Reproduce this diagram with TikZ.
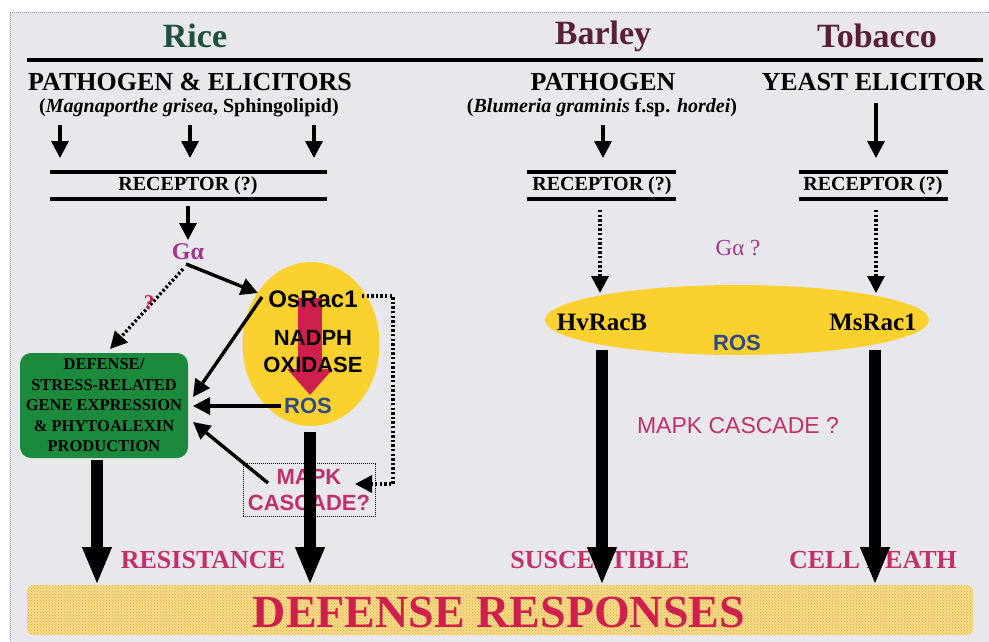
\documentclass[tikz,border=0pt]{standalone}
\usepackage{fontspec}
\setmainfont{Liberation Serif}
\setsansfont{Liberation Sans}
\usetikzlibrary{arrows.meta,shapes.geometric,patterns}
\definecolor{bg}{HTML}{E8E8EC}
\definecolor{ricegreen}{HTML}{1F4F3E}
\definecolor{plum}{HTML}{5A1E38}
\definecolor{pinklab}{HTML}{C2306C}
\definecolor{crimson}{HTML}{CF1F4C}
\definecolor{rosblue}{HTML}{2B4A86}
\definecolor{gapurple}{HTML}{A0388A}
\definecolor{yel}{HTML}{FAD12E}
\definecolor{boxgreen}{HTML}{1C8A3C}
\definecolor{bandbase}{HTML}{F4DB8C}
\definecolor{banddot}{HTML}{E9A92E}
\tikzset{
  title/.style={font=\fontsize{34}{38}\selectfont\bfseries, inner sep=0pt},
  head/.style={font=\fontsize{26}{30}\selectfont\bfseries, inner sep=0pt},
  sub/.style={font=\fontsize{20}{23}\selectfont\bfseries, inner sep=0pt},
  rec/.style={font=\fontsize{20}{24}\selectfont\bfseries, inner sep=0pt},
  sansb/.style={font=\fontsize{22}{26}\selectfont\sffamily\bfseries, inner sep=0pt},
  outcome/.style={font=\fontsize{26}{30}\selectfont\bfseries, text=pinklab, inner sep=0pt},
  thinarr/.style={line width=3.4pt, -{Triangle[width=17pt,length=17pt]}},
  dotarr/.style={line width=3.4pt, dash pattern=on 2.4pt off 2.2pt, -{Triangle[width=17pt,length=17pt]}},
  fatarr/.style={line width=12pt, -{Triangle[width=27pt,length=38pt]}},
  recline/.style={line width=3.4pt},
}
\begin{document}
\begin{tikzpicture}[x=1pt,y=-1pt]
\useasboundingbox (0,0) rectangle (989,641);
% background
\fill[bg] (10,12) rectangle (1000,660);
\draw[gray!80, line width=0.9pt, dash pattern=on 1pt off 1pt] (10,660) -- (10,12) -- (1000,12);

% titles
\node[title, text=ricegreen] (rice) at (195,36) {Rice};
\node[title, text=plum] (barley) at (603,36) {Barley};
\node[title, text=plum] (tobacco) at (877,36) {Tobacco};
\draw[line width=4.8pt] (27,60) -- (983,60);

% ===== Rice =====
\node[head] (pe) at (190,82) {PATHOGEN \& ELICITORS};
\node[sub] (pesub) at (189,108) {(\textit{Magnaporthe grisea}, Sphingolipid)};
\coordinate (r1s) at (60,125);  \coordinate (r1e) at (60,158);
\coordinate (r2s) at (190,125); \coordinate (r2e) at (190,158);
\coordinate (r3s) at (314,125); \coordinate (r3e) at (314,158);
\draw[thinarr] (r1s) -- (r1e);
\draw[thinarr] (r2s) -- (r2e);
\draw[thinarr] (r3s) -- (r3e);
\draw[recline] (50,172) -- (327,172);
\draw[recline] (50,199) -- (327,199);
\node[rec] (rec1) at (188,186) {RECEPTOR (?)};
\node[font=\fontsize{24}{26}\selectfont\bfseries, text=gapurple, inner sep=0pt] (ga) at (188,252) {Gα};
\coordinate (gas) at (188,206); \coordinate (gae) at (188,240);
\draw[thinarr] (gas) -- (gae);

% OsRac1 ellipse
\node[ellipse, fill=yel, minimum width=137pt, minimum height=164pt, inner sep=0pt] (osell) at (311,344) {};
\coordinate (reds) at (310,298); \coordinate (rede) at (310,395);
\draw[crimson, line width=24pt, -{Triangle[width=44pt,length=26pt]}] (reds) -- (rede);
\node[font=\fontsize{24}{28}\selectfont\sffamily\bfseries, inner sep=0pt] (osrac) at (313,299) {OsRac1};
\node[sansb] (nadph) at (313,338) {NADPH};
\node[sansb] (oxid) at (313,365) {OXIDASE};
\node[sansb, text=rosblue] (ros1) at (308,406) {ROS};

% defense box
\node[draw=none, fill=boxgreen, rounded corners=11pt, minimum width=168pt, minimum height=105pt,
      align=center, inner sep=0pt, font=\fontsize{16.5}{20.5}\selectfont\bfseries] (defbox) at (104,405.5)
      {DEFENSE/\\STRESS-RELATED\\GENE EXPRESSION\\\& PHYTOALEXIN\\PRODUCTION};

% MAPK dotted box
\node[draw, line width=1pt, dash pattern=on 1pt off 1pt, minimum width=132pt, minimum height=53pt,
      align=center, inner sep=0pt, text=pinklab, font=\fontsize{22}{26}\selectfont\sffamily\bfseries] (mapk) at (309,490)
      {MAPK\\CASCADE?};

% connectors into the defense box
\coordinate (os1) at (262,297); \coordinate (in1) at (193,397);
\coordinate (ro1) at (281,406); \coordinate (in2) at (193,406);
\coordinate (mk1) at (268,483); \coordinate (in3) at (193,422);
\draw[thinarr] (os1) -- (in1);
\draw[thinarr] (ro1) -- (in2);
\draw[thinarr] (mk1) -- (in3);
% G alpha -> OsRac1
\coordinate (ga1) at (186,264); \coordinate (osin) at (258,293);
\draw[thinarr] (ga1) -- (osin);
% G alpha dotted -> defense box
\coordinate (ga2) at (183,269); \coordinate (dbin) at (110,349);
\draw[dotarr] (ga2) -- (dbin);
\node[font=\fontsize{21}{24}\selectfont\bfseries, text=crimson, inner sep=0pt] (q1) at (149,303) {?};
% OsRac1 dotted elbow -> MAPK
\coordinate (oselb) at (362,296); \coordinate (mkin) at (355,484);
\draw[dotarr] (oselb) -- (393,296) -- (393,484) -- (mkin);

\node[outcome] (resist) at (203,560) {RESISTANCE};

% ===== Barley =====
\node[head] (pb) at (603,82) {PATHOGEN};
\node[sub] (pbsub) at (602,108) {(\textit{Blumeria graminis} f.sp. \textit{hordei})};
\coordinate (b1s) at (603,125); \coordinate (b1e) at (603,158);
\draw[thinarr] (b1s) -- (b1e);
\draw[recline] (527,172) -- (676,172);
\draw[recline] (527,199) -- (676,199);
\node[rec] (rec2) at (602,186) {RECEPTOR (?)};

% ===== Tobacco =====
\node[head] (pt) at (873,82) {YEAST ELICITOR};
\coordinate (t1s) at (876,103); \coordinate (t1e) at (876,158);
\draw[thinarr] (t1s) -- (t1e);
\draw[recline] (799,172) -- (948,172);
\draw[recline] (799,199) -- (948,199);
\node[rec] (rec3) at (873,186) {RECEPTOR (?)};

\node[font=\fontsize{23}{26}\selectfont, text=gapurple, inner sep=0pt] (ga3) at (738,248) {Gα ?};

% big ellipse
\node[ellipse, fill=yel, minimum width=384pt, minimum height=70pt, inner sep=0pt] (bigell) at (737,320) {};
\node[font=\fontsize{25}{28}\selectfont\bfseries, inner sep=0pt] (hv) at (602,322) {HvRacB};
\node[font=\fontsize{25}{28}\selectfont\bfseries, inner sep=0pt] (ms) at (873,322) {MsRac1};
\node[sansb, text=rosblue] (ros2) at (737,343) {ROS};
\coordinate (b2s) at (600,210); \coordinate (b2e) at (600,293);
\coordinate (t2s) at (876,210); \coordinate (t2e) at (876,293);
\draw[dotarr] (b2s) -- (b2e);
\draw[dotarr] (t2s) -- (t2e);

\node[font=\fontsize{23}{26}\selectfont\sffamily, text=pinklab, inner sep=0pt] (mapk2) at (738,426) {MAPK CASCADE ?};

\node[outcome] (susc) at (600,560) {SUSCEPTIBLE};
\node[outcome] (death) at (873,560) {CELL DEATH};

% band
\node[rounded corners=6pt, minimum width=946pt, minimum height=50pt, inner sep=0pt,
      preaction={fill=bandbase}, pattern=crosshatch dots, pattern color=banddot] (band) at (500,610) {};
\node[font=\fontsize{46}{50}\selectfont\bfseries, text=crimson, inner sep=0pt] (defresp) at (499,612) {DEFENSE RESPONSES};

% fat arrows
\coordinate (f1s) at (97,460);  \coordinate (f1e) at (97,585);
\coordinate (f2s) at (310,432); \coordinate (f2e) at (310,585);
\coordinate (f3s) at (602,350); \coordinate (f3e) at (602,585);
\coordinate (f4s) at (875,350); \coordinate (f4e) at (875,585);
\draw[fatarr] (f1s) -- (f1e);
\draw[fatarr] (f2s) -- (f2e);
\draw[fatarr] (f3s) -- (f3e);
\draw[fatarr] (f4s) -- (f4e);
\end{tikzpicture}
\end{document}
